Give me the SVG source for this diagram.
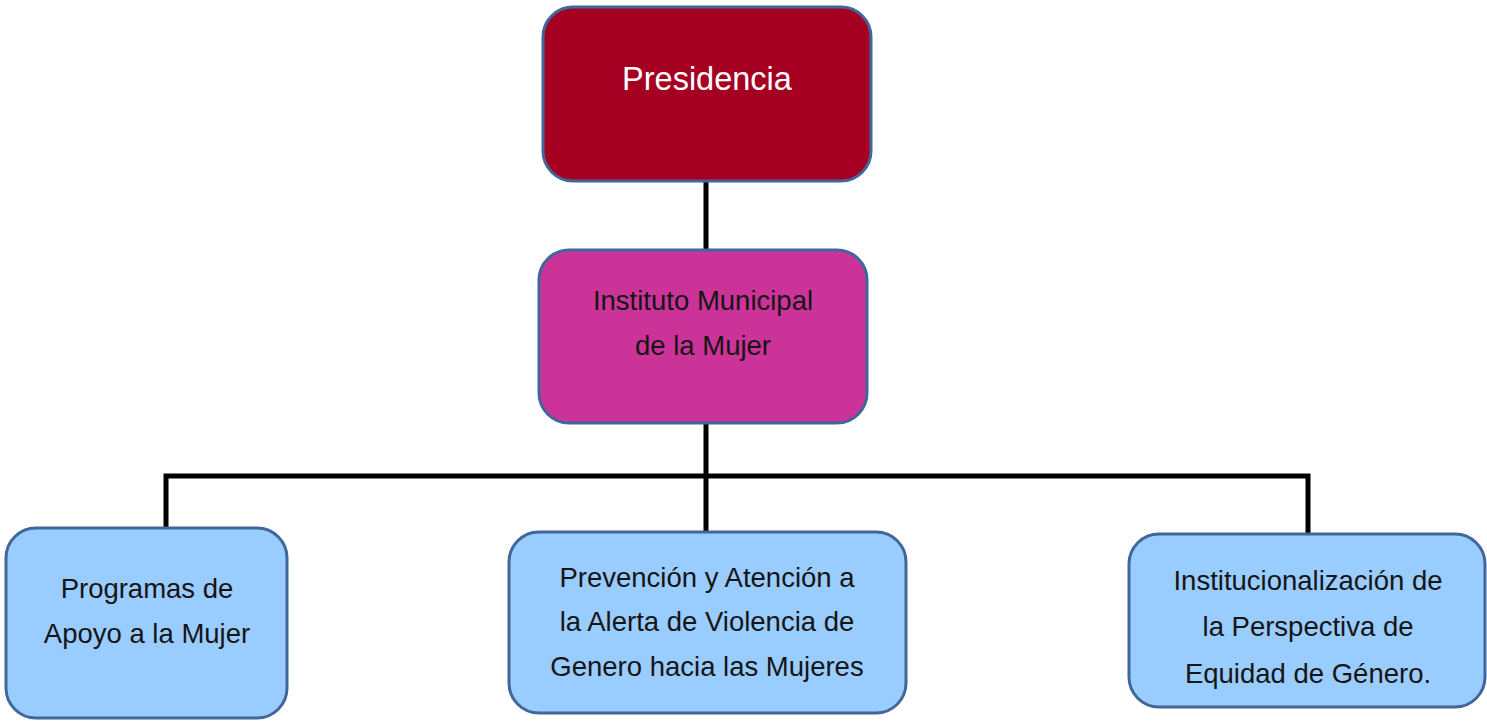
<svg xmlns="http://www.w3.org/2000/svg" width="1487" height="721" viewBox="0 0 1487 721">
<style>
.box{stroke:#41679A;stroke-width:3}
.t{font-family:"Liberation Sans",Arial,sans-serif;font-size:27.5px;fill:#151515;text-anchor:middle}
.w{fill:#ffffff;font-size:32.5px}
.c{stroke:#000;stroke-width:5;fill:none}
</style>
<rect width="1487" height="721" fill="#ffffff"/>
<g id="connectors">
<line class="c" x1="706" y1="182" x2="706" y2="250"/>
<line class="c" x1="706" y1="423" x2="706" y2="532"/>
<polyline class="c" points="166,527 166,476 1308,476 1308,533"/>
</g>
<g id="presidencia">
<rect class="box" x="543" y="7" width="328" height="174" rx="30" fill="#A50021"/>
<text class="t w" x="707" y="90">Presidencia</text>
</g>
<g id="instituto">
<rect class="box" x="539" y="250" width="328" height="173" rx="30" fill="#CC3399"/>
<text class="t" x="703" y="310">Instituto Municipal</text>
<text class="t" x="703" y="355">de la Mujer</text>
</g>
<g id="programas">
<rect class="box" x="6" y="528" width="281" height="190" rx="30" fill="#99CCFF"/>
<text class="t" x="147" y="598">Programas de</text>
<text class="t" x="147" y="643">Apoyo a la Mujer</text>
</g>
<g id="prevencion">
<rect class="box" x="509" y="532" width="397" height="181" rx="30" fill="#99CCFF"/>
<text class="t" x="707" y="587">Prevención y Atención a</text>
<text class="t" x="707" y="631">la Alerta de Violencia de</text>
<text class="t" x="707" y="676">Genero hacia las Mujeres</text>
</g>
<g id="institucionalizacion">
<rect class="box" x="1129" y="534" width="356" height="173" rx="30" fill="#99CCFF"/>
<text class="t" x="1308" y="590">Institucionalización de</text>
<text class="t" x="1308" y="636">la Perspectiva de</text>
<text class="t" x="1308" y="683">Equidad de Género.</text>
</g>
</svg>
